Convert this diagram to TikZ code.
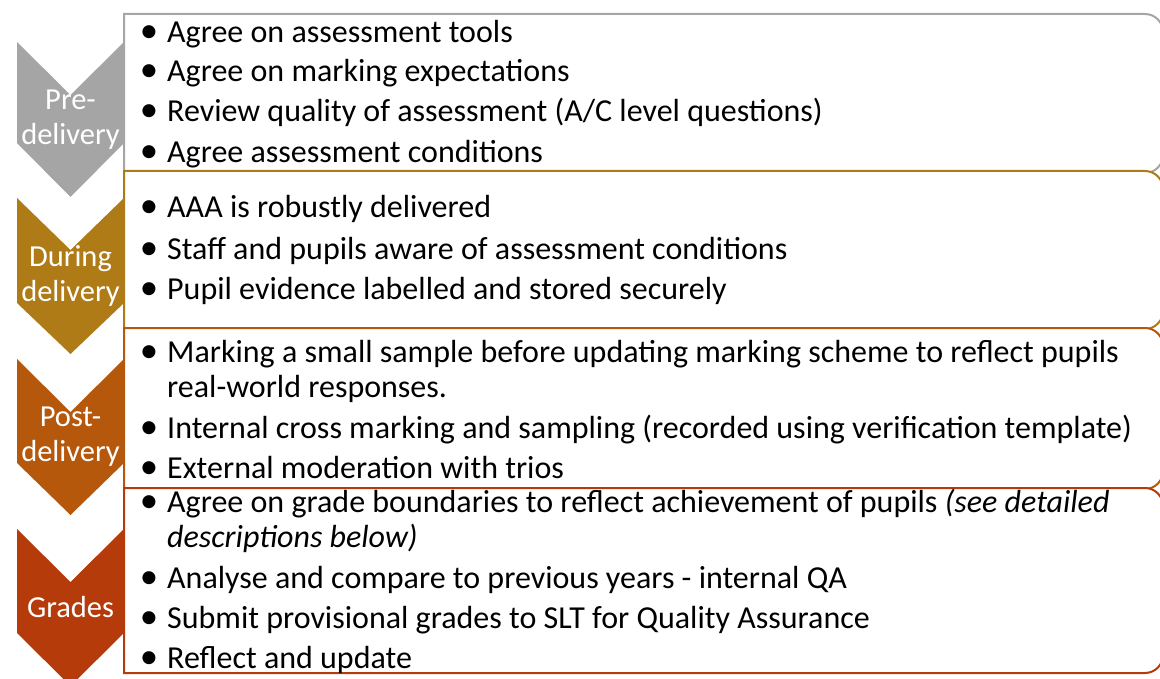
\documentclass[tikz,border=0pt]{standalone}
\usepackage{fontspec}
\setmainfont{Carlito}
\usepackage{tikz}
\usetikzlibrary{positioning}

\definecolor{predel}{HTML}{A5A5A5}
\definecolor{durdel}{HTML}{AE7B16}
\definecolor{postdel}{HTML}{B5580C}
\definecolor{grades}{HTML}{B53B0B}
\newcommand{\bul}{\makebox[0pt][r]{\scalebox{1.15}{\textbullet}\hspace{9pt}}}

\begin{document}
\begin{tikzpicture}[x=1pt, y=-1pt,
	itm/.style={anchor=base west, inner sep=0pt, align=left, font=\fontsize{32}{34.5}\selectfont},
	stg/.style={text=white, align=center, inner sep=0pt, font=\fontsize{30.5}{35}\selectfont},
	bx/.style={fill=white, line width=2pt}]
	\useasboundingbox (0,0) rectangle (1160,679);
	
	% chevrons
	\fill [predel] (17,42) -- (70.5,95) -- (124,42) -- (124,143) -- (70.5,197) -- (17,143) -- cycle;
	\fill [durdel] (17,198) -- (70.5,250) -- (124,198) -- (124,303) -- (70.5,354) -- (17,303) -- cycle;
	\fill [postdel] (17,359) -- (70.5,412) -- (124,359) -- (124,463) -- (70.5,515) -- (17,463) -- cycle;
	\fill [grades] (17,529) -- (70.5,582) -- (124,529) -- (124,633) -- (70.5,686) -- (17,633) -- cycle;
	
	\node [stg] (lpre) at (70.5,120) {Pre-\\delivery};
	\node [stg] (ldur) at (70.5,276) {During\\delivery};
	\node [stg] (lpost) at (70.5,437) {Post-\\delivery};
	\node [stg] (lgrad) at (70.5,607) {Grades};
	
	% boxes
	\draw [bx, draw=predel] (124,14) -- (1145,14) arc[start angle=-90, end angle=0, radius=18] -- (1163,155) arc[start angle=0, end angle=90, radius=18] -- (124,173) -- cycle;
	\draw [bx, draw=durdel] (124,171) -- (1145,171) arc[start angle=-90, end angle=0, radius=18] -- (1163,311) arc[start angle=0, end angle=90, radius=18] -- (124,329) -- cycle;
	\draw [bx, draw=postdel] (124,328) -- (1145,328) arc[start angle=-90, end angle=0, radius=18] -- (1163,471) arc[start angle=0, end angle=90, radius=18] -- (124,489) -- cycle;
	\draw [bx, draw=grades] (124,488) -- (1145,488) arc[start angle=-90, end angle=0, radius=18] -- (1163,655) arc[start angle=0, end angle=90, radius=18] -- (124,673) -- cycle;
	
	% pre-delivery
	\node [itm] (pd1) at (167,43) {\bul Agree on assessment tools};
	\node [itm] (pd2) at (167,82) {\bul Agree on marking expectations};
	\node [itm] (pd3) at (167,122) {\bul Review quality of assessment (A/C level questions)};
	\node [itm] (pd4) at (167,163) {\bul Agree assessment conditions};
	
	% during delivery
	\node [itm] (dd1) at (167,218) {\bul AAA is robustly delivered};
	\node [itm] (dd2) at (167,260) {\bul Staff and pupils aware of assessment conditions};
	\node [itm] (dd3) at (167,300) {\bul Pupil evidence labelled and stored securely};
	
	% post-delivery (base = last line)
	\node [itm] (po1) at (167,397) {\bul Marking a small sample before updating marking scheme to reflect pupils\\real-world responses.};
	\node [itm] (po2) at (167,438) {\bul Internal cross marking and sampling (recorded using verification template)};
	\node [itm] (po3) at (167,478) {\bul External moderation with trios};
	
	% grades
	\node [itm] (gr1) at (167,547) {\bul Agree on grade boundaries to reflect achievement of pupils \textit{(see detailed}\\\textit{descriptions below)}};
	\node [itm] (gr2) at (167,588) {\bul Analyse and compare to previous years - internal QA};
	\node [itm] (gr3) at (167,628) {\bul Submit provisional grades to SLT for Quality Assurance};
	\node [itm] (gr4) at (167,668) {\bul Reflect and update};
\end{tikzpicture}
\end{document}
